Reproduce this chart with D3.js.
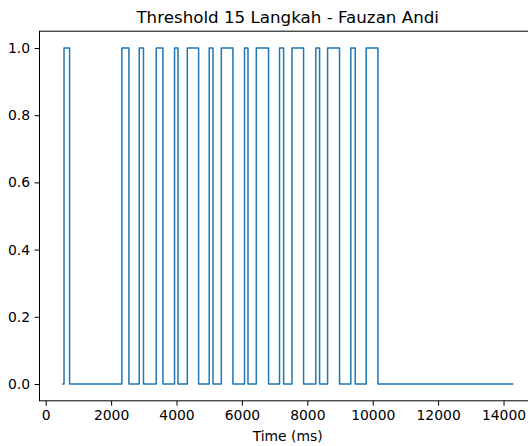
<!DOCTYPE html>
<html>
<head>
<meta charset="utf-8">
<script src="https://cdn.jsdelivr.net/npm/d3@7"></script>
<style>
  html, body { margin: 0; padding: 0; background: #fff; }
  svg { display: block; }
  text { font-family: "DejaVu Sans", sans-serif; fill: #000; }
</style>
</head>
<body>
<div id="chart"></div>
<script>
// ---- data ----
const title = "Threshold 15 Langkah - Fauzan Andi";
const xLabel = "Time (ms)";
const startTime = 500;
const endTime = 14300;
const riseTimes = [560, 2330, 2860, 3380, 3940, 4330, 5000, 5370, 6080, 6440, 7150, 7530, 8260, 8620, 9330, 9800];
const fallTimes = [730, 2545, 2990, 3585, 4045, 4675, 5115, 5725, 6185, 6815, 7275, 7885, 8375, 8985, 9465, 10160];
const xTicks = [0, 2000, 4000, 6000, 8000, 10000, 12000, 14000];
const yTicks = [0.0, 0.2, 0.4, 0.6, 0.8, 1.0];

// build points
const points = [[startTime, 0]];
riseTimes.forEach((r, i) => { points.push([r, 1]); points.push([fallTimes[i], 0]); });
points.push([endTime, 0]);

const W = 528, H = 446;
const mLeft = 39.5, mRight = 535.9, mTop = 31.2, mBottom = 400.8;

const xMin = d3.min(points, d => d[0]), xMax = d3.max(points, d => d[0]);
const xPad = (xMax - xMin) * 0.05;
const x = d3.scaleLinear().domain([xMin - xPad, xMax + xPad]).range([mLeft, mRight]);
const y = d3.scaleLinear().domain([-0.05, 1.05]).range([mBottom, mTop]);

const svg = d3.select("#chart").append("svg").attr("width", W).attr("height", H);

// line
const line = d3.line().x(d => x(d[0])).y(d => y(d[1])).curve(d3.curveStepAfter);
svg.append("path").datum(points)
  .attr("d", line)
  .attr("fill", "none")
  .attr("stroke", "#1f77b4")
  .attr("stroke-width", 1.5)
  .attr("stroke-linejoin", "round");

// axes
const xAxis = d3.axisBottom(x).tickValues(xTicks).tickFormat(d3.format("d")).tickSizeOuter(0).tickSize(4.9).tickPadding(4.5);
const yAxis = d3.axisLeft(y).tickValues(yTicks).tickFormat(d3.format(".1f")).tickSizeOuter(0).tickSize(4.9).tickPadding(4.5);

const gx = svg.append("g").attr("transform", `translate(0,${mBottom})`).call(xAxis);
const gy = svg.append("g").attr("transform", `translate(${mLeft},0)`).call(yAxis);
[gx, gy].forEach(g => {
  g.selectAll("path.domain").remove();
  g.selectAll("line").attr("stroke", "#000").attr("stroke-width", 1);
  g.selectAll("text").attr("font-size", 13.9).attr("font-family", "DejaVu Sans, sans-serif").attr("fill", "#000");
});

// spines
svg.append("rect")
  .attr("x", mLeft).attr("y", mTop)
  .attr("width", mRight - mLeft).attr("height", mBottom - mTop)
  .attr("fill", "none").attr("stroke", "#000").attr("stroke-width", 1);

// title
svg.append("text")
  .attr("x", (mLeft + mRight) / 2).attr("y", 23)
  .attr("text-anchor", "middle")
  .attr("font-size", 16.7)
  .text(title);

// x label
svg.append("text")
  .attr("x", (mLeft + mRight) / 2).attr("y", 441)
  .attr("text-anchor", "middle")
  .attr("font-size", 13.9)
  .text(xLabel);
</script>
</body>
</html>
